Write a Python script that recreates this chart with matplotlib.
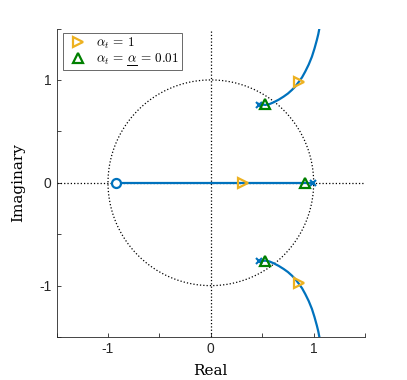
import numpy as np
import matplotlib
matplotlib.use("Agg")
import matplotlib.pyplot as plt
from matplotlib.lines import Line2D

plt.rcParams['mathtext.fontset'] = 'cm'

# Data
zero_re = [-0.92]
zero_im = [0.0]
pole_re = [0.99, 0.47, 0.47]
pole_im = [0.0, 0.76, -0.76]

# real-axis branch
real_branch_re = [-0.92, 0.99]
real_branch_im = [0.0, 0.0]

# upper complex branch (lower is its mirror)
cplx_re = [0.467, 0.50, 0.531, 0.57, 0.612, 0.66, 0.708, 0.75, 0.789, 0.823,
           0.853, 0.887, 0.918, 0.952, 0.983, 1.008, 1.031, 1.045, 1.056, 1.065]
cplx_im = [0.767, 0.760, 0.757, 0.765, 0.783, 0.808, 0.838, 0.868, 0.903, 0.938,
           0.978, 1.025, 1.081, 1.150, 1.226, 1.305, 1.388, 1.445, 1.502, 1.56]

# alpha_t = 1 markers
a1_re = [0.316, 0.853, 0.853]
a1_im = [0.0, 0.975, -0.975]
# alpha_t = 0.01 markers
a2_re = [0.918, 0.53, 0.53]
a2_im = [0.0, 0.765, -0.765]

xticks = [-1.5, -1, -0.5, 0, 0.5, 1, 1.5]
yticks = [-1.5, -1, -0.5, 0, 0.5, 1, 1.5]
ticklabels = ['', '-1', '', '0', '', '1', '']

blue = '#0072BD'
yellow = '#EDB120'
green = '#008000'

fig = plt.figure(figsize=(4.07, 3.8), dpi=100)
ax = fig.add_axes([0.139, 0.113, 0.758, 0.812])

# guide lines
t = np.linspace(0, 2 * np.pi, 400)
ax.plot(np.cos(t), np.sin(t), ':', color='black', lw=0.9)
ax.axhline(0, ls=':', color='black', lw=0.9)
ax.axvline(0, ls=':', color='black', lw=0.9)

ax.plot(real_branch_re, real_branch_im, color=blue, lw=1.6)
ax.plot(cplx_re, cplx_im, color=blue, lw=1.6)
ax.plot(cplx_re, [-v for v in cplx_im], color=blue, lw=1.6)
ax.plot(zero_re, zero_im, 'o', mfc='white', mec=blue, mew=1.6, ms=6.5, zorder=5)
ax.plot(pole_re, pole_im, 'x', color=blue, mew=1.5, ms=5, zorder=5)

ax.plot(a1_re, a1_im, '>', mfc='none', mec=yellow, mew=1.6, ms=7,
        ls='none', zorder=6, label=r'$\alpha_t \,=\, 1$')
ax.plot(a2_re, a2_im, '^', mfc='none', mec=green, mew=1.6, ms=7,
        ls='none', zorder=6, label=r'$\alpha_t \,=\, \alpha \,=\, 0.01$')

ax.set_xlim(-1.5, 1.5)
ax.set_ylim(-1.5, 1.5)
ax.set_xticks(xticks)
ax.set_xticklabels(ticklabels)
ax.set_yticks(yticks)
ax.set_yticklabels(ticklabels)
ax.tick_params(direction='in', length=3, colors='0.15', labelsize=10,
               labelcolor='0.15', width=0.6)
for lab in ax.get_xticklabels() + ax.get_yticklabels():
    lab.set_fontfamily('Liberation Sans')
for s in ['top', 'right']:
    ax.spines[s].set_visible(False)
for s in ['left', 'bottom']:
    ax.spines[s].set_color('0.15')
    ax.spines[s].set_linewidth(0.6)

ax.set_xlabel('Real', fontsize=11, fontfamily='DejaVu Serif', labelpad=6)
ax.set_ylabel('Imaginary', fontsize=11, fontfamily='DejaVu Serif', labelpad=10)

fs = 9.5
leg = ax.legend(loc='upper left', bbox_to_anchor=(0.021, 0.985), fontsize=fs,
                borderaxespad=0, frameon=True, fancybox=False, edgecolor='0.15',
                handlelength=1.8, handletextpad=0.5, borderpad=0.2,
                labelspacing=0.05)
leg.get_frame().set_linewidth(0.6)

# underline the second alpha in the legend label
fig.canvas.draw()
r = fig.canvas.get_renderer()
txt = leg.get_texts()[1]
bb = txt.get_window_extent(r)
def width(s):
    tt = fig.text(0, 0, s, fontsize=fs)
    w = tt.get_window_extent(r).width
    tt.remove()
    return w
w_pre = width(r'$\alpha_t \,=\, \alpha$')
w_a = width(r'$\alpha$')
x1 = bb.x0 + w_pre
x0 = x1 - w_a
y = bb.y0 + 1.5
fig.add_artist(Line2D([x0, x1], [y, y], transform=None, color='black', lw=0.7))

fig.savefig('out.png', dpi=100)
